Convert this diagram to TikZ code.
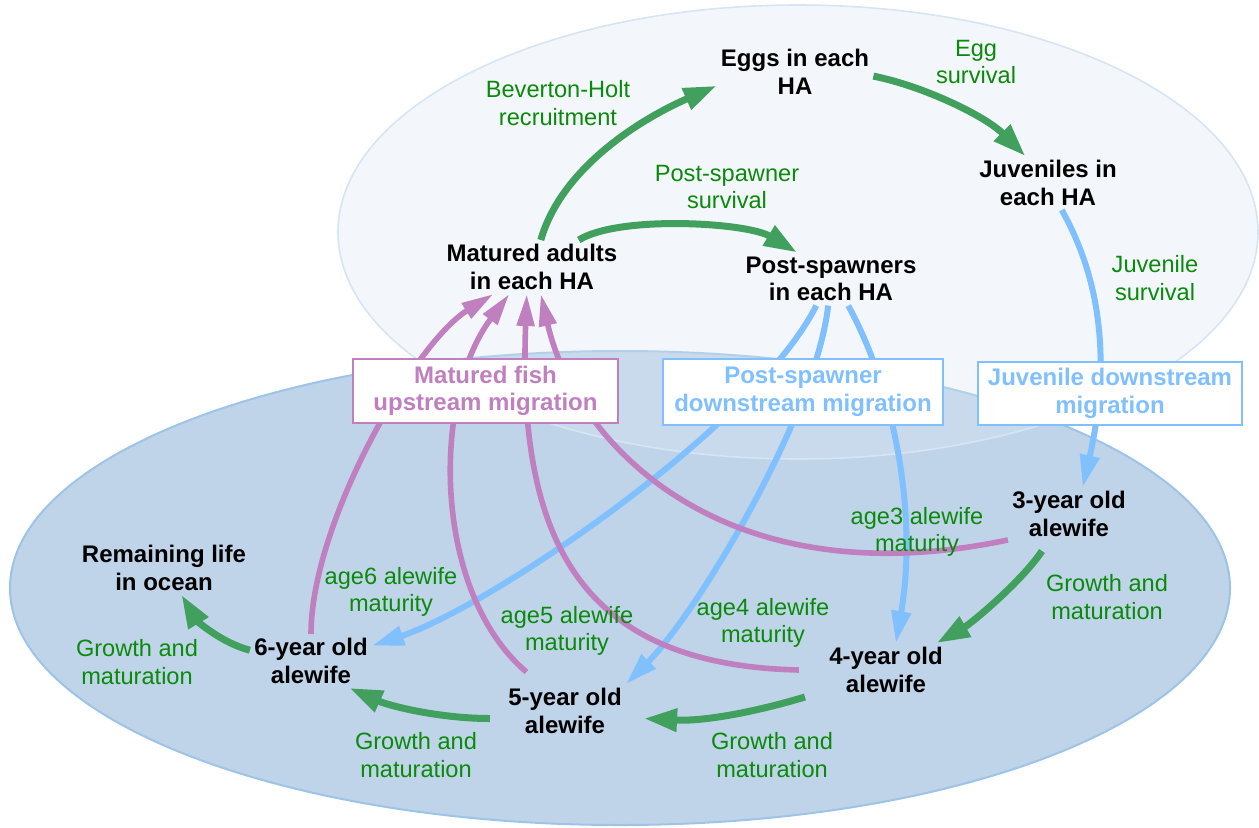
\documentclass[tikz,border=0pt]{standalone}
\usepackage{fontspec}
\setmainfont{Liberation Sans}
\usetikzlibrary{arrows.meta, positioning, shapes}
\definecolor{grnline}{HTML}{42A05E}
\definecolor{grntext}{HTML}{0A8A0A}
\definecolor{bluline}{HTML}{80C0FF}
\definecolor{purline}{HTML}{C080C0}
\definecolor{seafill}{HTML}{BFD4E9}
\definecolor{seadraw}{HTML}{9DC3E6}
\definecolor{rivfill}{HTML}{DDE8F3}
\definecolor{rivdraw}{HTML}{D6E5F3}
\pgfdeclarelayer{bg}
\pgfdeclarelayer{edges}
\pgfsetlayers{bg,edges,main}
\tikzset{
  stagenode/.style = {align=center, inner sep=2pt, text centered},
  stg_b/.style = {stagenode, font=\fontsize{12}{13.8}\selectfont\bfseries},% life stage
  lbl_g/.style = {stagenode, text=grntext,
    font=\fontsize{11.8}{13.8}\selectfont},% process label
  box_p/.style = {stg_b, draw=purline, fill=white, text=purline,
    line width=1pt},% upstream box
  box_b/.style = {stg_b, draw=bluline, fill=white, text=bluline,
    line width=1pt},% downstream box
  ln_g/.style = {draw=grnline, line width=3.5pt,
    -{Triangle[length=16.5pt,width=11pt]}},% growth, survival
  ln_b/.style = {draw=bluline, line width=3pt,
    -{Triangle[length=16pt,width=9.5pt]}},% downstream
  ln_p/.style = {draw=purline, line width=2.8pt,
    -{Triangle[length=16pt,width=8.5pt]}}% upstream
}

\begin{document}
\begin{tikzpicture}[x=0.5pt, y=-0.5pt]
\useasboundingbox (0,0) rectangle (1259,827);
\begin{pgfonlayer}{bg}
\filldraw[fill=seafill, draw=seadraw, line width=1pt] (620,588) ellipse [x radius=610, y radius=237];
\filldraw[fill=rivfill, fill opacity=0.35, draw=rivdraw, line width=0.8pt] (798,232) ellipse [x radius=460, y radius=227];
\end{pgfonlayer}

% life stages
\node[stg_b] (egg) at (795,72) {Eggs in each\\HA};
\node[stg_b] (juv) at (1048,183) {Juveniles in\\each HA};
\node[stg_b] (mat) at (532,267) {Matured adults\\in each HA};
\node[stg_b] (post) at (831,279) {Post-spawners\\in each HA};
\node[stg_b] (y3) at (1069,514) {3-year old\\alewife};
\node[stg_b] (y4) at (886,670) {4-year old\\alewife};
\node[stg_b] (y5) at (565,711) {5-year old\\alewife};
\node[stg_b] (y6) at (311,661) {6-year old\\alewife};
\node[stg_b] (ocean) at (164,568) {Remaining life\\in ocean};

% process labels
\node[lbl_g] (bh) at (558,103) {Beverton-Holt\\recruitment};
\node[lbl_g] (pss) at (727,187) {Post-spawner\\survival};
\node[lbl_g] (egs) at (976,62) {Egg\\survival};
\node[lbl_g] (jvs) at (1155,278) {Juvenile\\survival};
\node[lbl_g] (m3) at (917,532) {age3 alewife\\maturity};
\node[lbl_g] (m4) at (763,623) {age4 alewife\\maturity};
\node[lbl_g] (m5) at (567,631) {age5 alewife\\maturity};
\node[lbl_g] (m6) at (391,592) {age6 alewife\\maturity};
\node[lbl_g] (g34) at (1107,597) {Growth and\\maturation};
\node[lbl_g] (g45) at (772,755) {Growth and\\maturation};
\node[lbl_g] (g56) at (416,755) {Growth and\\maturation};
\node[lbl_g] (g6o) at (137,662) {Growth and\\maturation};

\begin{pgfonlayer}{edges}
% river side
\draw[ln_g] (mat.72) .. controls +(20,-70) and +(-80,35) .. (egg.190);
\draw[ln_g] (mat.30) .. controls +(40,-25) and +(-50,-30) .. (post.142);
\draw[ln_g] (egg.357) .. controls +(50,10) and +(-40,-40) .. (juv.130);
% downstream
\draw[ln_b] (juv.297) .. controls +(45,80) and +(25,-110) .. (y3.63);
\draw[ln_b] (post.241) .. controls +(-60,120) and +(120,-40) .. (y6.14);
\draw[ln_b] (post.264) .. controls +(-13,112) and +(70,-70) .. (y5.north east);
\draw[ln_b] (post.303) .. controls +(50,92) and +(21,-121) .. (y4.70);
% upstream
\draw[ln_p] (y3.203) .. controls +(-290,61) and +(33,145) .. (mat.288);
\draw[ln_p] ([xshift=-13pt]y4.west) .. controls +(-220,-5) and +(-9,245) .. (mat.259);
\draw[ln_p] ([yshift=6pt]y5.145) .. controls +(-94,-80) and +(-78,104) .. (mat.230);
\draw[ln_p] (y6.north) .. controls +(0,-110) and +(-80,50) .. (mat.215);
% ocean side
\draw[ln_g] ([yshift=-5pt]y3.225) .. controls +(-20,30) and +(35,-20) .. (y4.28);
\draw[ln_g] ([xshift=-10pt]y4.south west) .. controls +(-50,15) and +(60,3) .. ([xshift=9pt]y5.353);
\draw[ln_g] ([xshift=-7pt]y5.187) .. controls +(-50,0) and +(40,18) .. (y6.325);
\draw[ln_g] (y6.170) .. controls +(-30,-8) and +(15,25) .. (ocean.303);
\end{pgfonlayer}

% migration boxes
\node[box_p, minimum width=132.5pt, minimum height=32pt] (upmig) at (485.5,391) {Matured fish\\upstream migration};
\node[box_b, minimum width=140pt, minimum height=33pt] (psmig) at (803,392) {Post-spawner\\downstream migration};
\node[box_b, minimum width=132pt, minimum height=31.5pt] (jvmig) at (1110,393.5) {Juvenile downstream\\migration};
\end{tikzpicture}
\end{document}
